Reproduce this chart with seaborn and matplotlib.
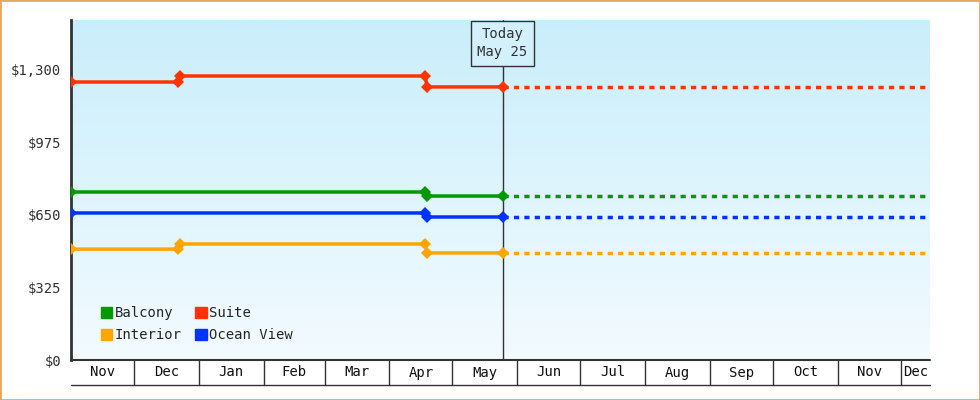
import numpy as np
import pandas as pd
import matplotlib
matplotlib.use("Agg")
import matplotlib.pyplot as plt
import matplotlib.dates as mdates
import matplotlib.patches as mpatches
import matplotlib.transforms as mtrans
import seaborn as sns

# price-change dates and prices (last point = today)
dates_full = ["2023-11-01", "2023-12-22", "2023-12-23", "2024-04-18", "2024-04-19", "2024-05-25"]
dates_apr = ["2023-11-01", "2024-04-18", "2024-04-19", "2024-05-25"]
suite = [1246, 1246, 1273, 1273, 1224, 1224]
balcony = [753, 753, 735, 735]
ocean_view = [659, 659, 641, 641]
interior = [497, 497, 520, 520, 480, 480]
series = {"Balcony": (dates_apr, balcony), "Interior": (dates_full, interior),
          "Suite": (dates_full, suite), "Ocean View": (dates_apr, ocean_view)}
colors = {"Balcony": "#009900", "Interior": "#ffa500", "Suite": "#ff3300", "Ocean View": "#0033ff"}
months = ["Nov", "Dec", "Jan", "Feb", "Mar", "Apr", "May", "Jun", "Jul", "Aug", "Sep", "Oct", "Nov", "Dec"]
start, end, today = pd.Timestamp("2023-11-01"), pd.Timestamp("2024-12-15"), pd.Timestamp("2024-05-25")
yticks = [0, 325, 650, 975, 1300]

sns.set_style("white")
plt.rcParams["font.family"] = ["DejaVu Sans Mono"]

fig = plt.figure(figsize=(9.8, 4), dpi=100)
ax = fig.add_axes([71 / 980, 40 / 400, 859 / 980, 340 / 400])

# gradient background, darker at top
grad = np.linspace(0, 1, 256).reshape(-1, 1)
cmap = matplotlib.colors.LinearSegmentedColormap.from_list("bg", ["#c9eefb", "#f3fbff"])
ax.imshow(grad, cmap=cmap, aspect="auto", extent=[0, 1, 0, 1], origin="upper",
          transform=ax.transAxes, zorder=0)

rows = []
for name, (ds, vals) in series.items():
    for d, v in zip(ds, vals):
        rows.append({"date": pd.Timestamp(d), "price": v, "room": name})
df = pd.DataFrame(rows)

sns.lineplot(data=df, x="date", y="price", hue="room", palette=colors, marker="D",
             markersize=6, markeredgewidth=0, linewidth=2.5, legend=False, ax=ax, zorder=3)
for name, (ds, vals) in series.items():
    fut = pd.DataFrame({"date": [today, end], "price": [vals[-1], vals[-1]]})
    sns.lineplot(data=fut, x="date", y="price", color=colors[name], linewidth=2.5,
                 linestyle=(0, (1.5, 1.5)), ax=ax, zorder=3)

ax.set_xlim(start, end)
ax.set_ylim(0, 1524)
ax.set_yticks(yticks)
ax.set_yticklabels([f"${v:,}" for v in yticks], fontsize=10, color="#333333")
ax.tick_params(axis="y", length=5, width=1.5, color="#333333", pad=2)
ax.set_xticks([])
ax.set_xlabel("")
ax.set_ylabel("")
for s in ["top", "right", "bottom"]:
    ax.spines[s].set_visible(False)
ax.spines["left"].set_linewidth(2)
ax.spines["left"].set_color("#333333")

# today marker
ax.axvline(today, color="#333333", linewidth=1, zorder=2)
ax.annotate("Today\nMay 25", xy=(mdates.date2num(today), 1524), xycoords="data",
            ha="center", va="top", fontsize=10, color="#333333", annotation_clip=False,
            xytext=(0, -5), textcoords="offset points", linespacing=1.4, zorder=5,
            bbox=dict(boxstyle="square,pad=0.45", fc="#d3f1fc", ec="#333333", lw=1))

# month boxes under the axis
tr = mtrans.blended_transform_factory(ax.transData, ax.transAxes)
edges = list(pd.date_range(start, end, freq="MS")) + [end]
h = 25 / 340
ax.plot([start, end], [0, 0], transform=tr, color="#333333", lw=1.5, clip_on=False)
ax.plot([start, end], [-h, -h], transform=tr, color="#333333", lw=1, clip_on=False)
for i, lab in enumerate(months):
    a, b = edges[i], edges[i + 1]
    if i > 0:
        ax.plot([a, a], [0, -h], transform=tr, color="#333333", lw=1, clip_on=False)
    ax.text(a + (b - a) / 2, -h / 2, lab, transform=tr, ha="center", va="center",
            fontsize=10, color="#111111")

handles = [mpatches.Patch(color=colors[n], label=n) for n in series]
ax.legend(handles=handles, ncol=2, loc="lower left", bbox_to_anchor=(0.02, 0.015),
          frameon=False, fontsize=10, handlelength=0.8, handleheight=0.8,
          handletextpad=0.2, columnspacing=1.0, labelspacing=0.6)

fig.patches.append(mpatches.Rectangle((0, 0), 1, 1, transform=fig.transFigure,
                                      fill=False, ec="#e8a85a", lw=2))
fig.savefig("out.png", dpi=100)
